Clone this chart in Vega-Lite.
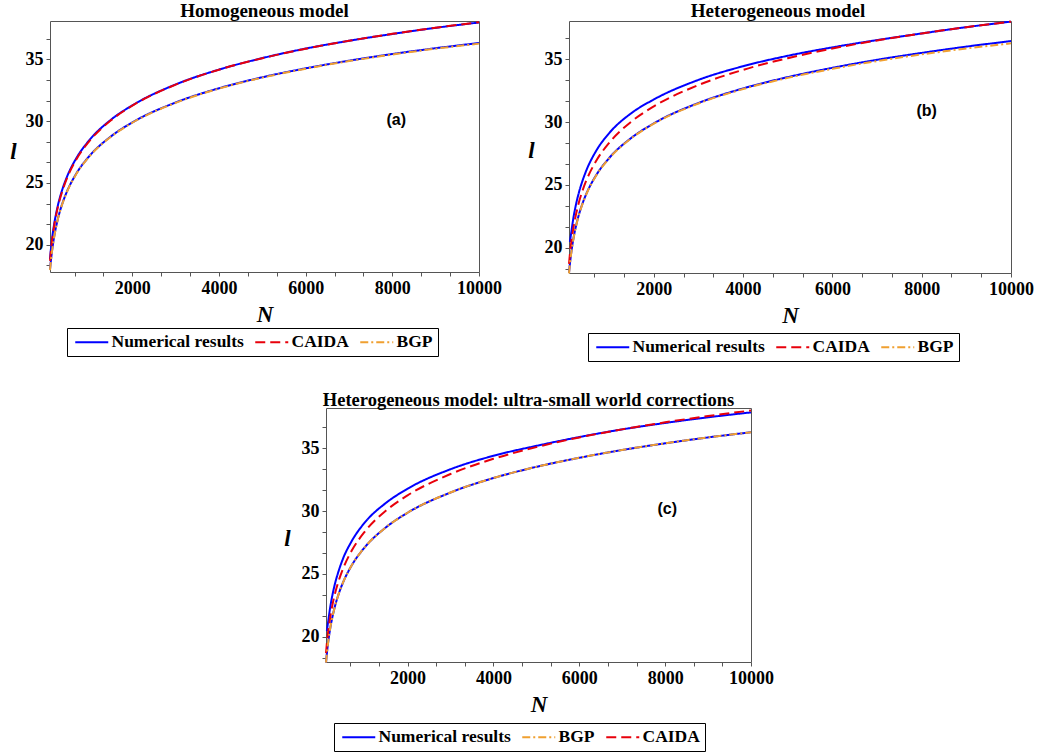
{
  "$schema": "https://vega.github.io/schema/vega-lite/v6.json",
  "padding": {"left": 9, "top": 1, "right": 5, "bottom": 0},
  "background": "white",
  "datasets": {
    "curves": [
      {"N": 100, "caida": 18.70, "bgp": 17.95, "aU": 18.85, "aL": 17.98, "bU": null, "bL": 17.98, "cU": null, "cL": 17.95},
      {"N": 120, "caida": 19.47, "bgp": 18.67, "aU": 19.62, "aL": 18.70, "bU": 20.45, "bL": 18.70, "cU": 20.45, "cL": 18.67},
      {"N": 150, "caida": 20.40, "bgp": 19.56, "aU": 20.55, "aL": 19.59, "bU": 21.2, "bL": 19.59, "cU": 21.2, "cL": 19.56},
      {"N": 200, "caida": 21.61, "bgp": 20.71, "aU": 21.76, "aL": 20.74, "bU": 22.4, "bL": 20.74, "cU": 22.4, "cL": 20.71},
      {"N": 250, "caida": 22.54, "bgp": 21.59, "aU": 22.68, "aL": 21.62, "bU": 23.33, "bL": 21.62, "cU": 23.33, "cL": 21.59},
      {"N": 300, "caida": 23.31, "bgp": 22.32, "aU": 23.45, "aL": 22.35, "bU": 24.1, "bL": 22.35, "cU": 24.1, "cL": 22.32},
      {"N": 400, "caida": 24.51, "bgp": 23.46, "aU": 24.64, "aL": 23.49, "bU": 25.3, "bL": 23.49, "cU": 25.3, "cL": 23.46},
      {"N": 500, "caida": 25.45, "bgp": 24.35, "aU": 25.57, "aL": 24.38, "bU": 26.25, "bL": 24.38, "cU": 26.25, "cL": 24.35},
      {"N": 700, "caida": 26.86, "bgp": 25.69, "aU": 26.96, "aL": 25.72, "bU": 27.66, "bL": 25.72, "cU": 27.62, "cL": 25.69},
      {"N": 1000, "caida": 28.35, "bgp": 27.11, "aU": 28.43, "aL": 27.14, "bU": 29.12, "bL": 27.14, "cU": 29.08, "cL": 27.11},
      {"N": 1500, "caida": 30.05, "bgp": 28.72, "aU": 30.10, "aL": 28.75, "bU": 30.72, "bL": 28.75, "cU": 30.66, "cL": 28.72},
      {"N": 2000, "caida": 31.25, "bgp": 29.87, "aU": 31.28, "aL": 29.90, "bU": 31.80, "bL": 29.90, "cU": 31.78, "cL": 29.87},
      {"N": 3000, "caida": 32.95, "bgp": 31.48, "aU": 32.97, "aL": 31.51, "bU": 33.36, "bL": 31.52, "cU": 33.33, "cL": 31.48},
      {"N": 4000, "caida": 34.16, "bgp": 32.63, "aU": 34.17, "aL": 32.66, "bU": 34.45, "bL": 32.68, "cU": 34.40, "cL": 32.63},
      {"N": 5000, "caida": 35.09, "bgp": 33.52, "aU": 35.10, "aL": 33.55, "bU": 35.28, "bL": 33.58, "cU": 35.19, "cL": 33.52},
      {"N": 6000, "caida": 35.86, "bgp": 34.24, "aU": 35.87, "aL": 34.27, "bU": 35.95, "bL": 34.32, "cU": 35.89, "cL": 34.24},
      {"N": 7000, "caida": 36.50, "bgp": 34.86, "aU": 36.50, "aL": 34.89, "bU": 36.53, "bL": 34.96, "cU": 36.50, "cL": 34.86},
      {"N": 8000, "caida": 37.06, "bgp": 35.39, "aU": 37.05, "aL": 35.43, "bU": 37.06, "bL": 35.51, "cU": 37.01, "cL": 35.39},
      {"N": 9000, "caida": 37.56, "bgp": 35.86, "aU": 37.55, "aL": 35.90, "bU": 37.56, "bL": 36.01, "cU": 37.46, "cL": 35.86},
      {"N": 10000, "caida": 38.00, "bgp": 36.27, "aU": 37.98, "aL": 36.32, "bU": 38.00, "bL": 36.45, "cU": 37.85, "cL": 36.27}
    ],
    "labels": [
      {"panel": "a", "N": 8090, "l": 30.06, "text": "(a)"},
      {"panel": "b", "N": 8110, "l": 30.9, "text": "(b)"},
      {"panel": "c", "N": 8050, "l": 30.15, "text": "(c)"}
    ]
  },
  "vconcat": [
    {
      "hconcat": [
        {
          "width": 429, "height": 251,
          "title": {"text": "Homogeneous model"},
          "data": {"name": "curves"},
          "encoding": {
            "x": {"field": "N", "type": "quantitative", "title": "N",
              "scale": {"domain": [100, 10000], "nice": false, "zero": false},
              "axis": {"values": [666.667, 1333.333, 2000, 2666.667, 3333.333, 4000, 4666.667, 5333.333, 6000, 6666.667, 7333.333, 8000, 8666.667, 9333.333, 10000],
                "labelExpr": "datum.value % 2000 < 1 ? format(datum.value, 'd') : ''", "labelFlush": false, "labelOverlap": false, "titlePadding": 6}}
          },
          "layer": [
            {"mark": {"type": "line"}, "encoding": {
              "y": {"field": "aU", "type": "quantitative", "title": "l", "scale": {"domain": [17.8, 38.1], "nice": false, "zero": false},
                "axis": {"values": [18.3333, 20, 21.6667, 23.3333, 25, 26.6667, 28.3333, 30, 31.6667, 33.3333, 35, 36.6667], "labelExpr": "abs(datum.value - round(datum.value/5)*5) < 0.01 ? format(datum.value, 'd') : ''", "labelOverlap": false, "labelFontSize": {"condition": {"test": "abs(datum.value - round(datum.value/5)*5) < 0.01", "value": 18}, "value": 0}, "titleAngle": 0, "titleX": -37, "titleY": 130, "titleAlign": "center", "titleBaseline": "middle"}},
              "color": {"datum": "Numerical results", "type": "nominal", "scale": {"domain": ["Numerical results", "CAIDA", "BGP"], "range": ["#0000ff", "#e8000b", "#f0a030"]}, "legend": {"title": null, "legendX": 17, "legendY": 307}},
              "strokeDash": {"datum": "Numerical results", "type": "nominal", "scale": {"domain": ["Numerical results", "CAIDA", "BGP"], "range": [[1, 0], [10, 5], [8, 3, 2, 3]]}, "legend": {"title": null, "legendX": 17, "legendY": 307}}
            }},
            {"mark": {"type": "line"}, "encoding": {
              "y": {"field": "aL", "type": "quantitative", "title": "l", "scale": {"domain": [17.8, 38.1], "nice": false, "zero": false},
                "axis": {"values": [18.3333, 20, 21.6667, 23.3333, 25, 26.6667, 28.3333, 30, 31.6667, 33.3333, 35, 36.6667], "labelExpr": "abs(datum.value - round(datum.value/5)*5) < 0.01 ? format(datum.value, 'd') : ''", "labelOverlap": false, "labelFontSize": {"condition": {"test": "abs(datum.value - round(datum.value/5)*5) < 0.01", "value": 18}, "value": 0}, "titleAngle": 0, "titleX": -37, "titleY": 130, "titleAlign": "center", "titleBaseline": "middle"}},
              "color": {"datum": "Numerical results", "type": "nominal"},
              "strokeDash": {"datum": "Numerical results", "type": "nominal"}
            }},
            {"mark": {"type": "line"}, "encoding": {
              "y": {"field": "caida", "type": "quantitative", "title": "l", "scale": {"domain": [17.8, 38.1], "nice": false, "zero": false},
                "axis": {"values": [18.3333, 20, 21.6667, 23.3333, 25, 26.6667, 28.3333, 30, 31.6667, 33.3333, 35, 36.6667], "labelExpr": "abs(datum.value - round(datum.value/5)*5) < 0.01 ? format(datum.value, 'd') : ''", "labelOverlap": false, "labelFontSize": {"condition": {"test": "abs(datum.value - round(datum.value/5)*5) < 0.01", "value": 18}, "value": 0}, "titleAngle": 0, "titleX": -37, "titleY": 130, "titleAlign": "center", "titleBaseline": "middle"}},
              "color": {"datum": "CAIDA", "type": "nominal"},
              "strokeDash": {"datum": "CAIDA", "type": "nominal"}
            }},
            {"mark": {"type": "line"}, "encoding": {
              "y": {"field": "bgp", "type": "quantitative", "title": "l", "scale": {"domain": [17.8, 38.1], "nice": false, "zero": false},
                "axis": {"values": [18.3333, 20, 21.6667, 23.3333, 25, 26.6667, 28.3333, 30, 31.6667, 33.3333, 35, 36.6667], "labelExpr": "abs(datum.value - round(datum.value/5)*5) < 0.01 ? format(datum.value, 'd') : ''", "labelOverlap": false, "labelFontSize": {"condition": {"test": "abs(datum.value - round(datum.value/5)*5) < 0.01", "value": 18}, "value": 0}, "titleAngle": 0, "titleX": -37, "titleY": 130, "titleAlign": "center", "titleBaseline": "middle"}},
              "color": {"datum": "BGP", "type": "nominal"},
              "strokeDash": {"datum": "BGP", "type": "nominal"}
            }},
            {"data": {"name": "labels"}, "transform": [{"filter": "datum.panel === 'a'"}],
              "mark": {"type": "text", "font": "Liberation Sans", "fontWeight": "bold", "fontSize": 16, "color": "black"},
              "encoding": {"y": {"field": "l", "type": "quantitative", "title": "l", "scale": {"domain": [17.8, 38.1], "nice": false, "zero": false},
                "axis": {"values": [18.3333, 20, 21.6667, 23.3333, 25, 26.6667, 28.3333, 30, 31.6667, 33.3333, 35, 36.6667], "labelExpr": "abs(datum.value - round(datum.value/5)*5) < 0.01 ? format(datum.value, 'd') : ''", "labelOverlap": false, "labelFontSize": {"condition": {"test": "abs(datum.value - round(datum.value/5)*5) < 0.01", "value": 18}, "value": 0}, "titleAngle": 0, "titleX": -37, "titleY": 130, "titleAlign": "center", "titleBaseline": "middle"}},
                "text": {"field": "text"}}}
          ]
        },
        {
          "width": 442, "height": 252,
          "title": {"text": "Heterogeneous model", "dx": -12},
          "data": {"name": "curves"},
          "encoding": {
            "x": {"field": "N", "type": "quantitative", "title": "N",
              "scale": {"domain": [100, 10000], "nice": false, "zero": false},
              "axis": {"values": [666.667, 1333.333, 2000, 2666.667, 3333.333, 4000, 4666.667, 5333.333, 6000, 6666.667, 7333.333, 8000, 8666.667, 9333.333, 10000],
                "labelExpr": "datum.value % 2000 < 1 ? format(datum.value, 'd') : ''", "labelFlush": false, "labelOverlap": false, "titlePadding": 6}}
          },
          "layer": [
            {"mark": {"type": "line"}, "encoding": {
              "y": {"field": "bU", "type": "quantitative", "title": "l", "scale": {"domain": [17.98, 38.05], "nice": false, "zero": false},
                "axis": {"values": [18.3333, 20, 21.6667, 23.3333, 25, 26.6667, 28.3333, 30, 31.6667, 33.3333, 35, 36.6667], "labelExpr": "abs(datum.value - round(datum.value/5)*5) < 0.01 ? format(datum.value, 'd') : ''", "labelOverlap": false, "labelFontSize": {"condition": {"test": "abs(datum.value - round(datum.value/5)*5) < 0.01", "value": 18}, "value": 0}, "titleAngle": 0, "titleX": -38, "titleY": 129, "titleAlign": "center", "titleBaseline": "middle"}},
              "color": {"datum": "Numerical results", "type": "nominal", "scale": {"domain": ["Numerical results", "CAIDA", "BGP"], "range": ["#0000ff", "#e8000b", "#f0a030"]}, "legend": {"title": null, "legendX": 19, "legendY": 312}},
              "strokeDash": {"datum": "Numerical results", "type": "nominal", "scale": {"domain": ["Numerical results", "CAIDA", "BGP"], "range": [[1, 0], [10, 5], [8, 3, 2, 3]]}, "legend": {"title": null, "legendX": 19, "legendY": 312}}
            }},
            {"mark": {"type": "line"}, "encoding": {
              "y": {"field": "bL", "type": "quantitative", "title": "l", "scale": {"domain": [17.98, 38.05], "nice": false, "zero": false},
                "axis": {"values": [18.3333, 20, 21.6667, 23.3333, 25, 26.6667, 28.3333, 30, 31.6667, 33.3333, 35, 36.6667], "labelExpr": "abs(datum.value - round(datum.value/5)*5) < 0.01 ? format(datum.value, 'd') : ''", "labelOverlap": false, "labelFontSize": {"condition": {"test": "abs(datum.value - round(datum.value/5)*5) < 0.01", "value": 18}, "value": 0}, "titleAngle": 0, "titleX": -38, "titleY": 129, "titleAlign": "center", "titleBaseline": "middle"}},
              "color": {"datum": "Numerical results", "type": "nominal"},
              "strokeDash": {"datum": "Numerical results", "type": "nominal"}
            }},
            {"mark": {"type": "line"}, "encoding": {
              "y": {"field": "caida", "type": "quantitative", "title": "l", "scale": {"domain": [17.98, 38.05], "nice": false, "zero": false},
                "axis": {"values": [18.3333, 20, 21.6667, 23.3333, 25, 26.6667, 28.3333, 30, 31.6667, 33.3333, 35, 36.6667], "labelExpr": "abs(datum.value - round(datum.value/5)*5) < 0.01 ? format(datum.value, 'd') : ''", "labelOverlap": false, "labelFontSize": {"condition": {"test": "abs(datum.value - round(datum.value/5)*5) < 0.01", "value": 18}, "value": 0}, "titleAngle": 0, "titleX": -38, "titleY": 129, "titleAlign": "center", "titleBaseline": "middle"}},
              "color": {"datum": "CAIDA", "type": "nominal"},
              "strokeDash": {"datum": "CAIDA", "type": "nominal"}
            }},
            {"mark": {"type": "line"}, "encoding": {
              "y": {"field": "bgp", "type": "quantitative", "title": "l", "scale": {"domain": [17.98, 38.05], "nice": false, "zero": false},
                "axis": {"values": [18.3333, 20, 21.6667, 23.3333, 25, 26.6667, 28.3333, 30, 31.6667, 33.3333, 35, 36.6667], "labelExpr": "abs(datum.value - round(datum.value/5)*5) < 0.01 ? format(datum.value, 'd') : ''", "labelOverlap": false, "labelFontSize": {"condition": {"test": "abs(datum.value - round(datum.value/5)*5) < 0.01", "value": 18}, "value": 0}, "titleAngle": 0, "titleX": -38, "titleY": 129, "titleAlign": "center", "titleBaseline": "middle"}},
              "color": {"datum": "BGP", "type": "nominal"},
              "strokeDash": {"datum": "BGP", "type": "nominal"}
            }},
            {"data": {"name": "labels"}, "transform": [{"filter": "datum.panel === 'b'"}],
              "mark": {"type": "text", "font": "Liberation Sans", "fontWeight": "bold", "fontSize": 16, "color": "black"},
              "encoding": {"y": {"field": "l", "type": "quantitative", "title": "l", "scale": {"domain": [17.98, 38.05], "nice": false, "zero": false},
                "axis": {"values": [18.3333, 20, 21.6667, 23.3333, 25, 26.6667, 28.3333, 30, 31.6667, 33.3333, 35, 36.6667], "labelExpr": "abs(datum.value - round(datum.value/5)*5) < 0.01 ? format(datum.value, 'd') : ''", "labelOverlap": false, "labelFontSize": {"condition": {"test": "abs(datum.value - round(datum.value/5)*5) < 0.01", "value": 18}, "value": 0}, "titleAngle": 0, "titleX": -38, "titleY": 129, "titleAlign": "center", "titleBaseline": "middle"}},
                "text": {"field": "text"}}}
          ]
        }
      ],
      "spacing": 25,
      "resolve": {"scale": {"color": "independent", "strokeDash": "independent"}}
    },
    {
      "hconcat": [
        {
          "width": 233, "height": 10,
          "view": {"stroke": null},
          "data": {"values": []},
          "mark": {"type": "point", "opacity": 0},
          "encoding": {}
        },
        {
          "width": 425, "height": 254,
          "title": {"text": "Heterogeneous model: ultra-small world corrections", "dx": -10, "fontSize": 18.5},
          "data": {"name": "curves"},
          "encoding": {
            "x": {"field": "N", "type": "quantitative", "title": "N",
              "scale": {"domain": [100, 10000], "nice": false, "zero": false},
              "axis": {"values": [666.667, 1333.333, 2000, 2666.667, 3333.333, 4000, 4666.667, 5333.333, 6000, 6666.667, 7333.333, 8000, 8666.667, 9333.333, 10000],
                "labelExpr": "datum.value % 2000 < 1 ? format(datum.value, 'd') : ''", "labelFlush": false, "labelOverlap": false, "titlePadding": 6}}
          },
          "layer": [
            {"mark": {"type": "line"}, "encoding": {
              "y": {"field": "cU", "type": "quantitative", "title": "l", "scale": {"domain": [18.0, 38.2], "nice": false, "zero": false},
                "axis": {"values": [18.3333, 20, 21.6667, 23.3333, 25, 26.6667, 28.3333, 30, 31.6667, 33.3333, 35, 36.6667], "labelExpr": "abs(datum.value - round(datum.value/5)*5) < 0.01 ? format(datum.value, 'd') : ''", "labelOverlap": false, "labelFontSize": {"condition": {"test": "abs(datum.value - round(datum.value/5)*5) < 0.01", "value": 18}, "value": 0}, "titleAngle": 0, "titleX": -39, "titleY": 130, "titleAlign": "center", "titleBaseline": "middle"}},
              "color": {"datum": "Numerical results", "type": "nominal", "scale": {"domain": ["Numerical results", "BGP", "CAIDA"], "range": ["#0000ff", "#f0a030", "#e8000b"]}, "legend": {"title": null, "legendX": 8, "legendY": 315}},
              "strokeDash": {"datum": "Numerical results", "type": "nominal", "scale": {"domain": ["Numerical results", "BGP", "CAIDA"], "range": [[1, 0], [8, 3, 2, 3], [10, 5]]}, "legend": {"title": null, "legendX": 8, "legendY": 315}}
            }},
            {"mark": {"type": "line"}, "encoding": {
              "y": {"field": "cL", "type": "quantitative", "title": "l", "scale": {"domain": [18.0, 38.2], "nice": false, "zero": false},
                "axis": {"values": [18.3333, 20, 21.6667, 23.3333, 25, 26.6667, 28.3333, 30, 31.6667, 33.3333, 35, 36.6667], "labelExpr": "abs(datum.value - round(datum.value/5)*5) < 0.01 ? format(datum.value, 'd') : ''", "labelOverlap": false, "labelFontSize": {"condition": {"test": "abs(datum.value - round(datum.value/5)*5) < 0.01", "value": 18}, "value": 0}, "titleAngle": 0, "titleX": -39, "titleY": 130, "titleAlign": "center", "titleBaseline": "middle"}},
              "color": {"datum": "Numerical results", "type": "nominal"},
              "strokeDash": {"datum": "Numerical results", "type": "nominal"}
            }},
            {"mark": {"type": "line"}, "encoding": {
              "y": {"field": "caida", "type": "quantitative", "title": "l", "scale": {"domain": [18.0, 38.2], "nice": false, "zero": false},
                "axis": {"values": [18.3333, 20, 21.6667, 23.3333, 25, 26.6667, 28.3333, 30, 31.6667, 33.3333, 35, 36.6667], "labelExpr": "abs(datum.value - round(datum.value/5)*5) < 0.01 ? format(datum.value, 'd') : ''", "labelOverlap": false, "labelFontSize": {"condition": {"test": "abs(datum.value - round(datum.value/5)*5) < 0.01", "value": 18}, "value": 0}, "titleAngle": 0, "titleX": -39, "titleY": 130, "titleAlign": "center", "titleBaseline": "middle"}},
              "color": {"datum": "CAIDA", "type": "nominal"},
              "strokeDash": {"datum": "CAIDA", "type": "nominal"}
            }},
            {"mark": {"type": "line"}, "encoding": {
              "y": {"field": "bgp", "type": "quantitative", "title": "l", "scale": {"domain": [18.0, 38.2], "nice": false, "zero": false},
                "axis": {"values": [18.3333, 20, 21.6667, 23.3333, 25, 26.6667, 28.3333, 30, 31.6667, 33.3333, 35, 36.6667], "labelExpr": "abs(datum.value - round(datum.value/5)*5) < 0.01 ? format(datum.value, 'd') : ''", "labelOverlap": false, "labelFontSize": {"condition": {"test": "abs(datum.value - round(datum.value/5)*5) < 0.01", "value": 18}, "value": 0}, "titleAngle": 0, "titleX": -39, "titleY": 130, "titleAlign": "center", "titleBaseline": "middle"}},
              "color": {"datum": "BGP", "type": "nominal"},
              "strokeDash": {"datum": "BGP", "type": "nominal"}
            }},
            {"data": {"name": "labels"}, "transform": [{"filter": "datum.panel === 'c'"}],
              "mark": {"type": "text", "font": "Liberation Sans", "fontWeight": "bold", "fontSize": 16, "color": "black"},
              "encoding": {"y": {"field": "l", "type": "quantitative", "title": "l", "scale": {"domain": [18.0, 38.2], "nice": false, "zero": false},
                "axis": {"values": [18.3333, 20, 21.6667, 23.3333, 25, 26.6667, 28.3333, 30, 31.6667, 33.3333, 35, 36.6667], "labelExpr": "abs(datum.value - round(datum.value/5)*5) < 0.01 ? format(datum.value, 'd') : ''", "labelOverlap": false, "labelFontSize": {"condition": {"test": "abs(datum.value - round(datum.value/5)*5) < 0.01", "value": 18}, "value": 0}, "titleAngle": 0, "titleX": -39, "titleY": 130, "titleAlign": "center", "titleBaseline": "middle"}},
                "text": {"field": "text"}}}
          ]
        }
      ],
      "spacing": 0,
      "resolve": {"scale": {"color": "independent", "strokeDash": "independent"}}
    }
  ],
  "spacing": 28,
  "resolve": {"scale": {"color": "independent", "strokeDash": "independent"}},
  "config": {
    "view": {"stroke": "#555555", "strokeWidth": 1},
    "line": {"strokeWidth": 2, "interpolate": "monotone"},
    "axis": {"domain": false, "grid": false, "labelOverlap": false, "tickColor": "#555555", "tickSize": 4, "labelFont": "Liberation Serif", "labelFontWeight": "bold", "labelFontSize": 18, "labelColor": "black", "labelPadding": 3, "titleFont": "Liberation Serif", "titleFontStyle": "italic", "titleFontWeight": "bold", "titleFontSize": 23, "titleColor": "black"},
    "axisY": {"labelOverlap": false},
    "legend": {"orient": "none", "direction": "horizontal", "strokeColor": "black", "fillColor": "white", "padding": 5, "labelFont": "Liberation Serif", "labelFontWeight": "bold", "labelFontSize": 17.5, "labelColor": "black", "symbolType": "M-3,0H3", "symbolSize": 121, "symbolOffset": 11, "symbolStrokeWidth": 2, "columnPadding": 7, "labelOffset": 11, "labelLimit": 300},
    "title": {"font": "Liberation Serif", "fontWeight": "bold", "fontSize": 19, "color": "black", "offset": -3}
  }
}
